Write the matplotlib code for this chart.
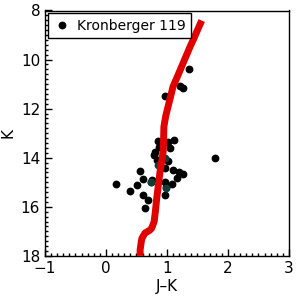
import matplotlib
matplotlib.use("Agg")
import matplotlib.pyplot as plt
from matplotlib.ticker import MultipleLocator

# observed stars (J-K, K)
jk_obs = [1.36, 1.26, 1.22, 0.96, 0.86, 1.11, 1.01, 1.05, 0.87, 0.80, 0.83, 1.02,
          0.78, 0.96, 1.79, 0.55, 1.10, 1.20, 1.26, 1.17, 0.60, 0.75, 0.16, 0.51,
          0.39, 0.97, 1.09, 0.99, 0.97, 0.61, 0.69, 0.64, 0.74]
k_obs = [10.40, 11.17, 11.07, 11.48, 13.30, 13.27, 13.34, 13.61, 13.55, 13.75, 14.09, 14.13,
         13.89, 14.43, 14.02, 14.54, 14.50, 14.57, 14.68, 14.81, 14.86, 14.90, 15.08, 15.12,
         15.36, 14.97, 15.08, 15.18, 15.51, 15.50, 15.71, 16.06, 14.97]

# dark teal points partly hidden
jk_teal = [0.74, 0.99, 0.96, 0.86]
k_teal = [14.97, 15.24, 14.02, 14.30]

# isochrone
jk_iso = [0.56, 0.56, 0.58, 0.59, 0.64, 0.72, 0.75, 0.79, 0.81, 0.83, 0.86, 0.89,
          0.92, 0.94, 0.95, 0.98, 1.02, 1.06, 1.10, 1.17, 1.24, 1.31, 1.38, 1.44, 1.49, 1.57]
k_iso = [18.0, 17.76, 17.40, 17.28, 17.07, 16.95, 16.87, 16.60, 16.20, 15.70, 15.10, 14.50,
         14.05, 13.70, 12.73, 12.30, 11.90, 11.50, 11.10, 10.70, 10.29, 9.88, 9.47, 9.15, 8.86, 8.41]

fig = plt.figure(figsize=(3, 3), dpi=100)
ax = fig.add_axes([0.15, 0.147, 0.813, 0.818])

ax.plot(jk_iso, k_iso, color="#e00000", lw=5, solid_capstyle="butt", zorder=3)
ax.plot(jk_obs, k_obs, "o", color="black", ms=4.6, ls="none", label="Kronberger 119", zorder=2)
ax.plot(jk_teal, k_teal, "o", color="#123c3c", ms=4.6, ls="none", zorder=2)

ax.set_xlim(-1, 3)
ax.set_ylim(18, 8)
ax.xaxis.set_major_locator(MultipleLocator(1))
ax.xaxis.set_minor_locator(MultipleLocator(0.1))
ax.yaxis.set_major_locator(MultipleLocator(2))
ax.yaxis.set_minor_locator(MultipleLocator(0.2))
ax.tick_params(which="both", direction="in", top=False, right=False, labelsize=11, width=1)
ax.tick_params(which="major", length=5)
ax.tick_params(which="minor", length=2.5)
for s in ax.spines.values():
    s.set_linewidth(1)

ax.set_xlabel("J–K", fontsize=11, labelpad=2)
ax.set_ylabel("K", fontsize=11, labelpad=4)

leg = ax.legend(loc="upper left", fontsize=10, handletextpad=0.4, borderpad=0.4,
                handlelength=1.3, fancybox=False, framealpha=1, borderaxespad=0.2)
leg.get_frame().set_edgecolor("black")
leg.get_frame().set_linewidth(1)

fig.savefig("out.png", dpi=100)
